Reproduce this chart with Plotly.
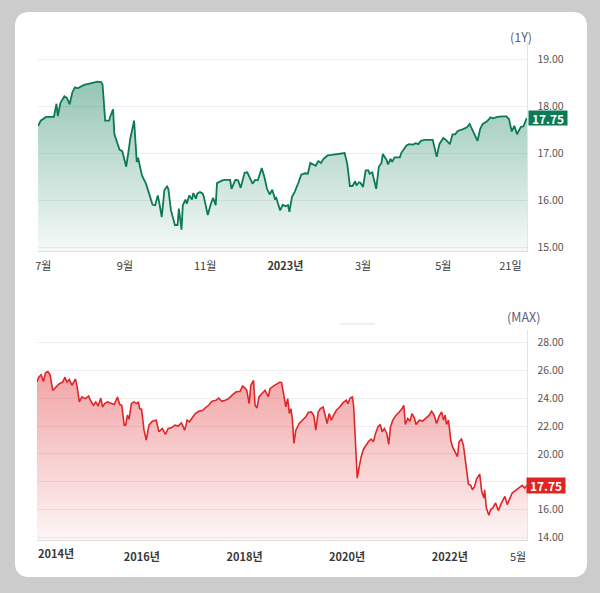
import pandas as pd
import plotly.graph_objects as go

# ---------------- data: 1Y chart (days since 2022-07-01) ----------------
top_days = [-4, -2, 2, 6, 8, 10, 11, 13, 16, 18, 20, 22, 24, 26, 29, 31, 35, 39, 41, 44,
            45, 47, 50, 51, 53, 54, 56, 58, 60, 63, 65, 66, 69, 71, 72, 75, 78, 80, 83, 85,
            87, 88, 90, 92, 94, 95, 97, 100, 102, 103, 105, 106, 108, 109, 111, 113, 114, 116, 117, 119,
            121, 122, 125, 127, 129, 131, 132, 136, 138, 142, 143, 146, 148, 150, 153, 155, 157, 159, 161, 163,
            166, 168, 170, 172, 174, 176, 177, 180, 182, 184, 186, 187, 189, 191, 194, 196, 199, 201, 203, 205,
            207, 209, 211, 213, 216, 219, 223, 226, 229, 231, 233, 235, 237, 238, 240, 241, 243, 245, 247, 248,
            250, 253, 255, 257, 258, 261, 262, 264, 265, 267, 271, 272, 276, 278, 281, 283, 285, 287, 290, 294,
            296, 299, 301, 304, 306, 309, 311, 313, 315, 319, 322, 324, 326, 328, 330, 332, 334, 337, 340, 342,
            345, 349, 352, 354, 356, 358, 360, 363, 365, 367, 368]
top_vals = [17.59, 17.70, 17.78, 17.77, 17.78, 18.06, 17.80, 18.08, 18.22, 18.18, 18.05, 18.30, 18.41, 18.39, 18.44, 18.46, 18.49, 18.51, 18.53, 18.52,
            18.47, 17.70, 17.70, 17.80, 17.94, 17.41, 17.24, 17.08, 17.05, 16.72, 17.10, 17.31, 17.70, 16.82, 16.91, 16.53, 16.36, 16.18, 15.91, 15.90,
            16.11, 15.97, 15.65, 16.22, 16.30, 16.25, 15.79, 15.48, 15.48, 15.83, 15.38, 15.90, 16.02, 15.93, 16.11, 16.02, 16.16, 16.04, 16.15, 16.18,
            16.15, 16.08, 15.69, 15.90, 16.06, 15.90, 16.37, 16.43, 16.44, 16.44, 16.25, 16.44, 16.43, 16.27, 16.59, 16.60, 16.48, 16.36, 16.44, 16.43,
            16.69, 16.50, 16.25, 16.13, 16.23, 16.04, 16.06, 15.79, 15.91, 15.88, 15.90, 15.76, 16.08, 16.18, 16.39, 16.55, 16.58, 16.57, 16.80, 16.77,
            16.74, 16.84, 16.80, 16.89, 16.96, 16.97, 16.99, 17.01, 17.01, 16.78, 16.31, 16.31, 16.41, 16.32, 16.39, 16.38, 16.29, 16.64, 16.64, 16.57,
            16.60, 16.25, 16.72, 16.80, 16.99, 16.86, 16.77, 16.89, 16.82, 16.92, 16.92, 17.01, 17.17, 17.20, 17.19, 17.22, 17.20, 17.27, 17.29, 17.29,
            17.29, 16.93, 17.20, 17.33, 17.29, 17.20, 17.41, 17.41, 17.48, 17.52, 17.56, 17.63, 17.52, 17.38, 17.27, 17.52, 17.63, 17.68, 17.77, 17.75,
            17.78, 17.79, 17.79, 17.73, 17.47, 17.59, 17.41, 17.57, 17.58, 17.73, 17.75]
top_ticks = ["2022-07-01", "2022-09-01", "2022-11-01", "2023-01-01", "2023-03-01", "2023-05-01", "2023-06-21"]
top_ticktext = ["7월", "9월", "11월", "<b>2023년</b>", "3월", "5월", "21일"]
top_yticks = [15, 16, 17, 18, 19]

# ---------------- data: MAX chart (days since 2014-01-01) ----------------
max_days = [-16, -2, 14, 31, 45, 62, 78, 97, 120, 144, 168, 184, 198, 215, 234, 258, 269, 286, 304, 328,
            352, 368, 387, 403, 420, 439, 451, 467, 486, 510, 534, 557, 573, 588, 605, 616, 628, 640, 656, 675,
            694, 706, 715, 729, 746, 762, 781, 805, 833, 852, 876, 899, 918, 941, 966, 989, 1012, 1036, 1053, 1069,
            1088, 1111, 1135, 1164, 1182, 1206, 1230, 1258, 1277, 1300, 1324, 1348, 1371, 1399, 1430, 1447, 1465, 1477, 1494, 1506,
            1525, 1536, 1550, 1564, 1583, 1607, 1631, 1642, 1666, 1690, 1713, 1725, 1741, 1755, 1768, 1780, 1791, 1801, 1812, 1826,
            1850, 1874, 1897, 1914, 1937, 1954, 1968, 1985, 2001, 2020, 2036, 2049, 2063, 2079, 2095, 2114, 2138, 2162, 2185, 2197,
            2213, 2228, 2237, 2247, 2256, 2263, 2275, 2291, 2308, 2327, 2346, 2362, 2378, 2393, 2410, 2426, 2440, 2456, 2473, 2487,
            2499, 2516, 2539, 2562, 2582, 2594, 2605, 2622, 2638, 2652, 2669, 2681, 2704, 2728, 2756, 2775, 2792, 2810, 2827, 2846,
            2863, 2877, 2888, 2898, 2912, 2928, 2940, 2959, 2976, 2987, 3004, 3018, 3035, 3054, 3070, 3082, 3098, 3112, 3134, 3148,
            3164, 3169, 3181, 3199, 3212, 3228, 3247, 3266, 3289, 3313, 3330, 3341, 3365, 3388, 3412, 3436, 3454, 3473]
max_vals = [25.17, 25.52, 25.69, 25.21, 25.83, 25.93, 25.69, 24.57, 24.81, 25.05, 25.17, 25.52, 25.17, 25.36, 24.93, 25.40, 24.93, 23.74, 24.10, 23.98,
            24.17, 23.79, 23.50, 23.74, 23.45, 24.02, 23.38, 23.62, 23.74, 23.62, 23.55, 24.10, 23.55, 23.50, 22.07, 22.07, 22.79, 22.50, 23.62, 23.74,
            23.62, 23.74, 23.26, 23.21, 21.71, 21.00, 22.07, 22.36, 22.43, 21.60, 21.83, 21.40, 21.83, 21.88, 22.07, 22.00, 22.24, 21.71, 22.43, 22.31,
            22.55, 22.90, 23.07, 23.14, 23.31, 23.50, 23.79, 23.86, 24.02, 23.79, 23.86, 23.98, 24.21, 24.45, 24.50, 24.88, 24.74, 24.57, 23.62, 24.93,
            25.29, 23.50, 23.31, 24.10, 24.33, 24.57, 24.10, 24.69, 24.88, 25.05, 25.17, 25.12, 24.21, 23.38, 23.98, 22.90, 23.26, 22.55, 20.76, 21.71,
            22.19, 22.43, 22.67, 22.98, 23.02, 22.74, 21.71, 23.02, 23.26, 23.38, 22.79, 22.19, 22.90, 22.43, 22.79, 23.14, 23.38, 23.69, 23.86, 23.62,
            24.02, 24.10, 23.50, 21.48, 19.69, 18.26, 18.98, 19.81, 20.36, 20.64, 20.93, 21.07, 20.88, 21.48, 21.95, 22.12, 21.60, 21.83, 21.48, 20.69,
            21.95, 22.43, 22.79, 23.02, 23.26, 23.50, 22.12, 22.55, 22.36, 22.90, 22.60, 22.12, 22.43, 22.36, 22.60, 22.79, 23.07, 22.79, 22.19, 22.74,
            23.02, 22.43, 22.79, 22.12, 22.43, 21.00, 20.52, 20.17, 19.81, 20.88, 21.07, 20.64, 19.21, 17.83, 17.74, 17.43, 17.67, 18.21, 18.55, 17.31,
            16.83, 17.43, 16.12, 15.60, 16.00, 16.12, 16.48, 15.93, 16.48, 16.95, 16.36, 16.60, 17.19, 17.36, 17.55, 17.74, 17.55, 17.75]
max_ticks = ["2016-01-01", "2018-01-01", "2020-01-01", "2022-01-01", "2023-05-01"]
max_ticktext = ["<b>2016년</b>", "<b>2018년</b>", "<b>2020년</b>", "<b>2022년</b>", "5월"]
max_yticks = [14, 16, 18, 20, 22, 24, 26, 28]
max_yticktext = ["14.00", "16.00", "", "20.00", "22.00", "24.00", "26.00", "28.00"]
last_value = 17.75

# ---------------- build ----------------
W, H = 600, 593
top_base = pd.Timestamp("2022-07-01")
max_base = pd.Timestamp("2014-01-01")
top_x = top_base + pd.to_timedelta(top_days, unit="D")
max_x = max_base + pd.to_timedelta(max_days, unit="D")

GREEN = "#0b7a55"
RED = "#e0262a"
FONT = "Noto Sans CJK KR"

fig = go.Figure()
fig.add_trace(go.Scatter(
    x=top_x, y=top_vals, mode="lines", xaxis="x", yaxis="y",
    line=dict(color=GREEN, width=1.8), fill="tozeroy",
    fillgradient=dict(type="vertical", start=14.92, stop=18.6,
                      colorscale=[[0, "rgba(11,122,85,0.04)"], [1, "rgba(11,122,85,0.44)"]]),
    hoverinfo="skip", showlegend=False))
fig.add_trace(go.Scatter(
    x=max_x, y=max_vals, mode="lines", xaxis="x2", yaxis="y2",
    line=dict(color=RED, width=1.6), fill="tozeroy",
    fillgradient=dict(type="vertical", start=13.79, stop=26.0,
                      colorscale=[[0, "rgba(224,38,42,0.04)"], [1, "rgba(224,38,42,0.42)"]]),
    hoverinfo="skip", showlegend=False))

def px(v):
    return v / W

def py(v):
    return 1 - v / H

axis_font = dict(family=FONT, size=11, color="#3a3a3a")
yaxis_font = dict(family=FONT, size=10.5, color="#555555")

fig.update_layout(
    width=W, height=H, margin=dict(l=0, r=0, t=0, b=0),
    paper_bgcolor="#cccccc", plot_bgcolor="rgba(0,0,0,0)",
    xaxis=dict(domain=[px(35), px(527)], anchor="y",
               range=[top_base + pd.Timedelta(days=-4.2), top_base + pd.Timedelta(days=367.9)],
               tickvals=top_ticks, ticktext=top_ticktext, tickfont=axis_font,
               showgrid=False, showline=True, linecolor="#dddddd", linewidth=1,
               ticks="", ticklabelstandoff=5, zeroline=False),
    yaxis=dict(domain=[py(253), py(42)], anchor="x", side="right",
               range=[14.92, 19.38], tickvals=top_yticks, tickformat=".2f",
               tickfont=yaxis_font, showgrid=True, gridcolor="#eeeeee", gridwidth=1,
               showline=True, linecolor="#e4e4e4", linewidth=1, ticks="",
               ticklabelstandoff=7, zeroline=False),
    xaxis2=dict(domain=[px(34), px(527)], anchor="y2",
                range=[max_base + pd.Timedelta(days=-16.3), max_base + pd.Timedelta(days=3473)],
                tickvals=max_ticks, ticktext=max_ticktext, tickfont=axis_font,
                showgrid=False, showline=True, linecolor="#dddddd", linewidth=1,
                ticks="", ticklabelstandoff=6, zeroline=False),
    yaxis2=dict(domain=[py(544), py(332)], anchor="x2", side="right",
                range=[13.79, 28.93], tickvals=max_yticks, ticktext=max_yticktext,
                tickfont=yaxis_font, showgrid=True, gridcolor="#eeeeee", gridwidth=1,
                showline=True, linecolor="#e4e4e4", linewidth=1, ticks="",
                ticklabelstandoff=7, zeroline=False),
)

# white rounded card
x0, x1 = px(12), px(587)
yt, yb = py(12), py(581)
rx, ry = 15 / W, 15 / H
card = (f"M {x0+rx},{yt} L {x1-rx},{yt} Q {x1},{yt} {x1},{yt-ry} "
        f"L {x1},{yb+ry} Q {x1},{yb} {x1-rx},{yb} L {x0+rx},{yb} "
        f"Q {x0},{yb} {x0},{yb+ry} L {x0},{yt-ry} Q {x0},{yt} {x0+rx},{yt} Z")
fig.add_shape(type="path", path=card, xref="paper", yref="paper",
              fillcolor="white", line=dict(width=0), layer="below")
# faint divider bar between the charts
fig.add_shape(type="line", xref="paper", yref="paper",
              x0=px(339), x1=px(374), y0=py(326), y1=py(326),
              line=dict(color="#eeeeee", width=2))

# period labels
period_font = dict(family=FONT, size=12.5, color="#5a5f80")
fig.add_annotation(text="(1Y)", xref="paper", yref="paper", x=px(534), y=py(25.5),
                   xanchor="right", showarrow=False, font=period_font)
fig.add_annotation(text="(MAX)", xref="paper", yref="paper", x=px(542), y=py(318.5),
                   xanchor="right", showarrow=False, font=period_font)
# first year label on the MAX axis (left aligned at plot edge)
fig.add_annotation(text="<b>2014년</b>", xref="paper", yref="paper", x=px(33), y=py(557),
                   xanchor="left", yanchor="middle", showarrow=False, font=axis_font)

# current value boxes
fig.add_annotation(text=f"<b>{last_value:.2f}</b>", xref="paper", yref="y", x=px(528), y=last_value,
                   xanchor="left", yanchor="middle", showarrow=False, width=36, height=12,
                   borderpad=1, bgcolor=GREEN, font=dict(family=FONT, size=12, color="white"))
fig.add_annotation(text=f"<b>{last_value:.2f}</b>", xref="paper", yref="y2", x=px(526), y=last_value,
                   xanchor="left", yanchor="middle", showarrow=False, width=36, height=13,
                   borderpad=1, bgcolor="#e02424", font=dict(family=FONT, size=12, color="white"))

fig.write_html("out.html")
